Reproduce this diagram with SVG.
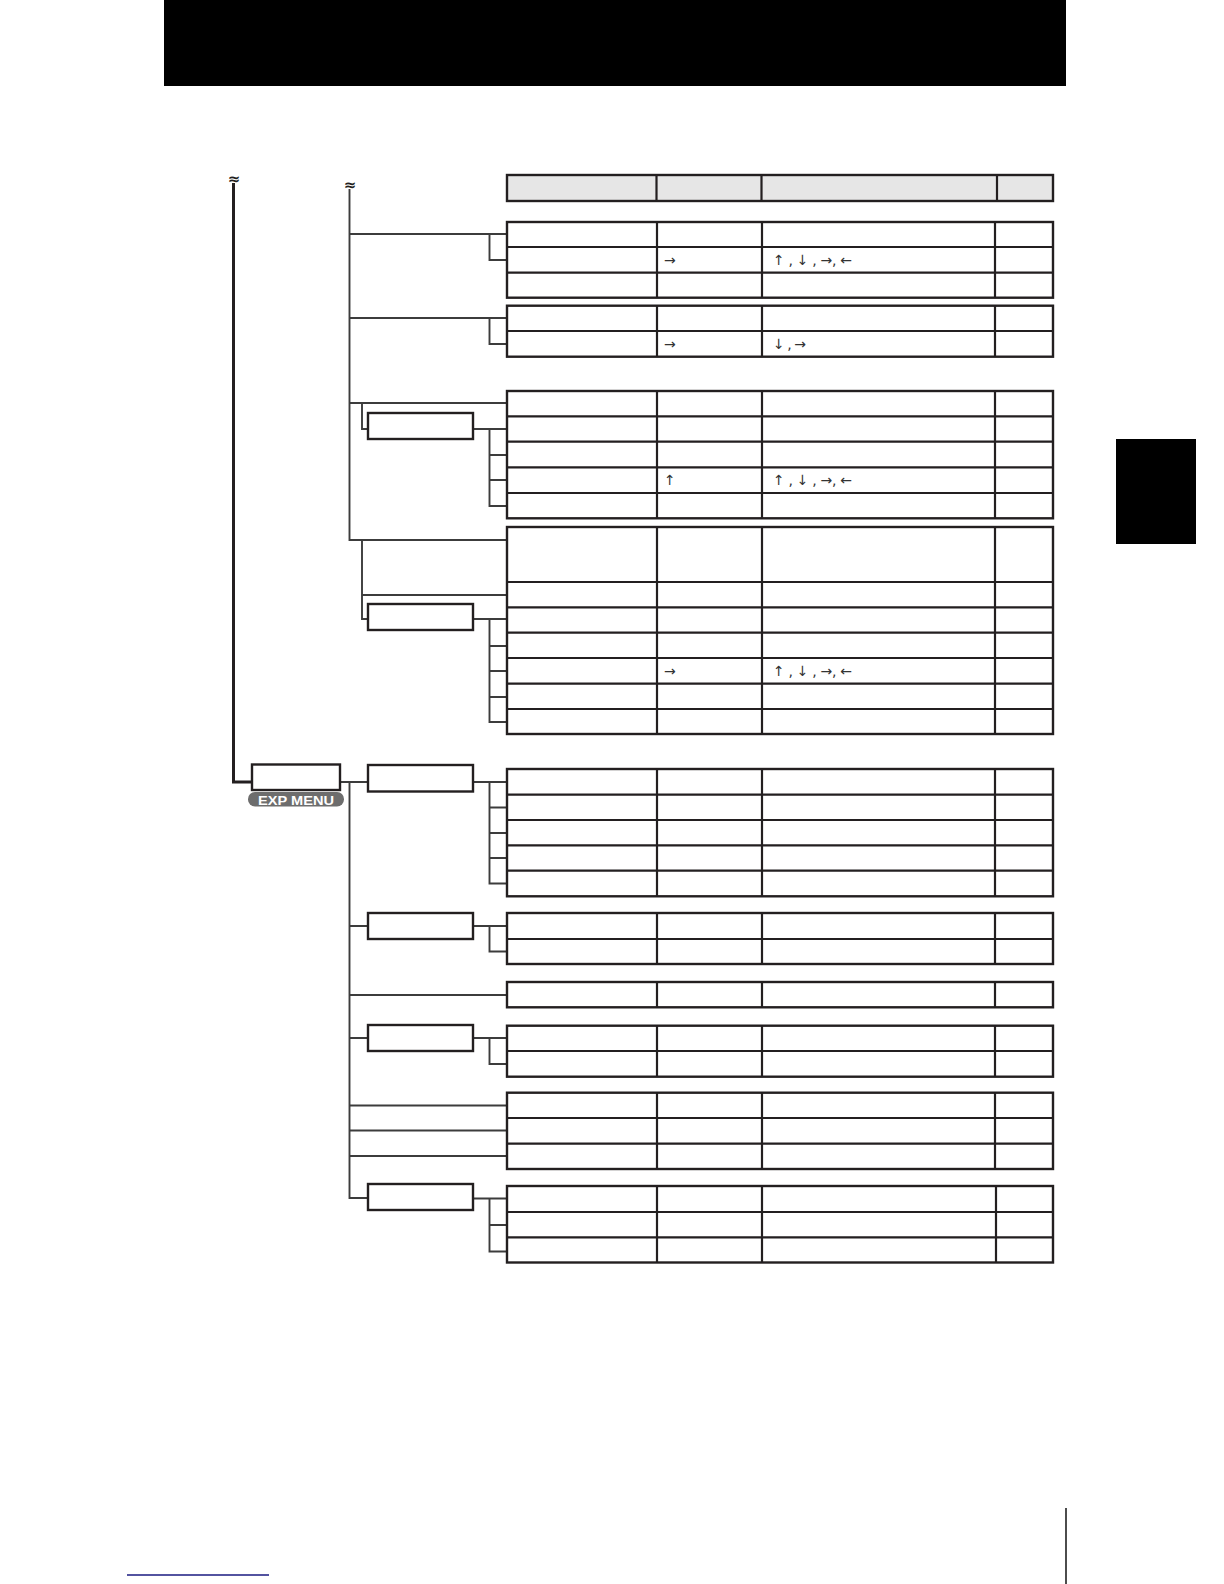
<svg xmlns="http://www.w3.org/2000/svg" width="1224" height="1584" viewBox="0 0 1224 1584">
<style>
.tb{fill:#fff;stroke:#231f20;stroke-width:2.4}
.hd{fill:#e6e6e6;stroke:#231f20;stroke-width:2.4}
.dv{stroke:#231f20;stroke-width:2.2;fill:none}
.bx{fill:#fff;stroke:#231f20;stroke-width:2.4}
.cn{fill:none;stroke:#3c3c3c;stroke-width:1.9}
.tk{fill:none;stroke:#231f20;stroke-width:3}
.ar{font-family:"DejaVu Sans","Liberation Sans",sans-serif;font-size:14px;fill:#333}
.brk{font-family:"DejaVu Sans",sans-serif;font-size:15px;font-weight:bold;fill:#231f20;text-anchor:middle}
</style>
<rect x="164" y="0" width="902" height="86" fill="#000"/>
<rect x="1116" y="439" width="80" height="105" fill="#000"/>
<line x1="1066" y1="1508" x2="1066" y2="1584" stroke="#000" stroke-width="1.4"/>
<line x1="127" y1="1575" x2="269" y2="1575" stroke="#1a1a80" stroke-width="1.4"/>

<g id="connectors">
<path class="tk" d="M233.5 183 V782 H252"/>
<path class="cn" d="M349.5 189 V540 H507"/>
<path class="cn" d="M349.5 234 H507 M489.5 234 V260 H507"/>
<path class="cn" d="M349.5 318 H507 M489.5 318 V344 H507"/>
<path class="cn" d="M349.5 403 H507 M362 403 V429 H368"/>
<path class="cn" d="M473 429 H507 M489.5 429 V506 H507 M489.5 455 H507 M489.5 480 H507"/>
<path class="cn" d="M362 540 V619 H368 M362 595 H507"/>
<path class="cn" d="M473 619 H507 M489.5 619 V722 H507 M489.5 646 H507 M489.5 671 H507 M489.5 697 H507"/>
<path class="cn" d="M340 782 H368 M349.5 782 V1198 H368"/>
<path class="cn" d="M473 782 H507 M489.5 782 V883.5 H507 M489.5 807.5 H507 M489.5 833 H507 M489.5 858 H507"/>
<path class="cn" d="M349.5 926 H368 M473 926 H507 M489.5 926 V951.5 H507"/>
<path class="cn" d="M349.5 995 H507"/>
<path class="cn" d="M349.5 1038 H368 M473 1038 H507 M489.5 1038 V1064 H507"/>
<path class="cn" d="M349.5 1105.5 H507 M349.5 1130.5 H507 M349.5 1156 H507"/>
<path class="cn" d="M473 1198.5 H507 M489.5 1198.5 V1251.5 H507 M489.5 1225 H507"/>
<text class="brk" x="234" y="184">≈</text>
<text class="brk" x="350" y="190">≈</text>
</g>

<g id="exp-menu">
<rect class="bx" x="252" y="764.5" width="88" height="25.5"/>
<rect x="248" y="792" width="96" height="14.5" rx="7" fill="#6d6d6d"/>
<text x="296" y="804.5" text-anchor="middle" font-family="Liberation Sans, Arial, sans-serif" font-weight="bold" font-size="13.5" fill="#fff" textLength="76" lengthAdjust="spacingAndGlyphs">EXP MENU</text>
</g>

<g id="box1"><rect class="bx" x="368" y="413" width="105" height="26"/></g>
<g id="box2"><rect class="bx" x="368" y="604" width="105" height="26"/></g>
<g id="box3"><rect class="bx" x="368" y="765" width="105" height="26.5"/></g>
<g id="box4"><rect class="bx" x="368" y="913" width="105" height="26"/></g>
<g id="box5"><rect class="bx" x="368" y="1025" width="105" height="26"/></g>
<g id="box6"><rect class="bx" x="368" y="1184" width="105" height="26"/></g>

<g id="header">
<rect class="hd" x="507" y="175" width="546" height="26"/>
<path class="dv" d="M656.5 175 V201 M761.5 175 V201 M997 175 V201"/>
</g>

<g id="table1">
<rect class="tb" x="507" y="222" width="546" height="75.7"/>
<path class="dv" d="M507 247 H1053 M507 272.7 H1053 M657 222 V297.7 M762 222 V297.7 M995 222 V297.7"/>
<text class="ar" x="664" y="265">→</text>
<text class="ar" x="773" y="265" textLength="79" lengthAdjust="spacing">↑ , ↓ , →, ←</text>
</g>

<g id="table2">
<rect class="tb" x="507" y="305.7" width="546" height="51"/>
<path class="dv" d="M507 331 H1053 M657 305.7 V356.7 M762 305.7 V356.7 M995 305.7 V356.7"/>
<text class="ar" x="664" y="349">→</text>
<text class="ar" x="773" y="349" textLength="33" lengthAdjust="spacing">↓ , →</text>
</g>

<g id="table3">
<rect class="tb" x="507" y="391" width="546" height="127.3"/>
<path class="dv" d="M507 416.3 H1053 M507 441.7 H1053 M507 467.3 H1053 M507 493 H1053 M657 391 V518.3 M762 391 V518.3 M995 391 V518.3"/>
<text class="ar" x="664" y="485">↑</text>
<text class="ar" x="773" y="485" textLength="79" lengthAdjust="spacing">↑ , ↓ , →, ←</text>
</g>

<g id="table4">
<rect class="tb" x="507" y="527" width="546" height="207"/>
<path class="dv" d="M507 582 H1053 M507 607.3 H1053 M507 632.7 H1053 M507 658 H1053 M507 683.7 H1053 M507 709 H1053 M657 527 V734 M762 527 V734 M995 527 V734"/>
<text class="ar" x="664" y="676">→</text>
<text class="ar" x="773" y="676" textLength="79" lengthAdjust="spacing">↑ , ↓ , →, ←</text>
</g>

<g id="table5">
<rect class="tb" x="507" y="769" width="546" height="127.3"/>
<path class="dv" d="M507 794.7 H1053 M507 820 H1053 M507 845.3 H1053 M507 870.7 H1053 M657 769 V896.3 M762 769 V896.3 M995 769 V896.3"/>
</g>

<g id="table6">
<rect class="tb" x="507" y="913" width="546" height="51"/>
<path class="dv" d="M507 939 H1053 M657 913 V964 M762 913 V964 M995 913 V964"/>
</g>

<g id="table7">
<rect class="tb" x="507" y="982" width="546" height="25.3"/>
<path class="dv" d="M657 982 V1007.3 M762 982 V1007.3 M995 982 V1007.3"/>
</g>

<g id="table8">
<rect class="tb" x="507" y="1025.7" width="546" height="51"/>
<path class="dv" d="M507 1051 H1053 M657 1025.7 V1076.7 M762 1025.7 V1076.7 M995 1025.7 V1076.7"/>
</g>

<g id="table9">
<rect class="tb" x="507" y="1092.7" width="546" height="76.3"/>
<path class="dv" d="M507 1118 H1053 M507 1143.7 H1053 M657 1092.7 V1169 M762 1092.7 V1169 M995 1092.7 V1169"/>
</g>

<g id="table10">
<rect class="tb" x="507" y="1186" width="546" height="76.5"/>
<path class="dv" d="M507 1212 H1053 M507 1237.3 H1053 M657 1186 V1262.5 M762 1186 V1262.5 M996 1186 V1262.5"/>
</g>
</svg>
